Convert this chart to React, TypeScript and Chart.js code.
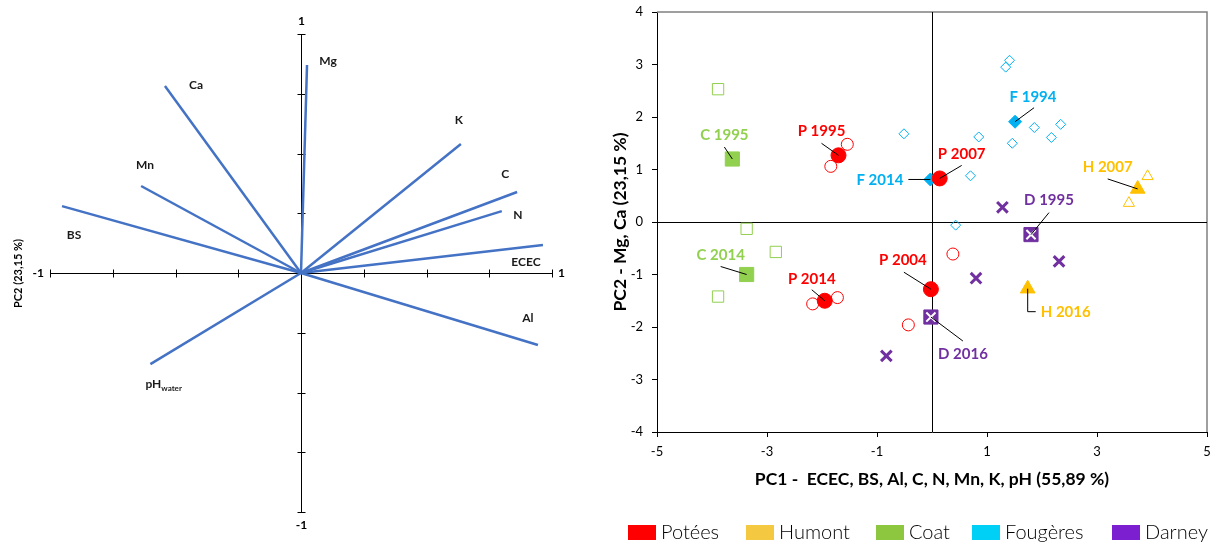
import React, { useEffect, useRef } from 'react';
import { Chart, registerables } from 'chart.js';
Chart.register(...registerables);

const FONT = 'Lato, "Open Sans", sans-serif';

// ---------- Left panel: variable loadings ----------
const variables = ['Ca', 'Mn', 'BS', 'Mg', 'K', 'C', 'N', 'ECEC', 'Al', 'pH'];
const loadPC1 = [-0.542, -0.637, -0.952, 0.024, 0.637, 0.861, 0.8, 0.964, 0.944, -0.6];
const loadPC2 = [0.782, 0.364, 0.28, 0.87, 0.54, 0.339, 0.259, 0.117, -0.301, -0.381];
const loadTicks = [-1, -0.75, -0.5, -0.25, 0, 0.25, 0.5, 0.75, 1];
const loadEndLabels = ['-1', '1'];
const leftYTitle = 'PC2 (23,15 %)';

// label offsets (pixels, text centre relative to vector tip)
const loadLabelOffsets: [number, number][] = [
  [31, -1], [4, -21], [12, 29], [21, -4], [-2, -24], [-12, -18], [16, 4], [-17, 17], [-10, -27], [-5, 20],
];

// ---------- Right panel: scores ----------
const potObsX = [-1.54, -1.84, 0.38, -0.43, -2.17, -1.72];
const potObsY = [1.48, 1.06, -0.61, -1.96, -1.56, -1.44];
const potMeanX = [-1.7, 0.14, -0.02, -1.95];
const potMeanY = [1.27, 0.83, -1.28, -1.5];
const potLabels = ['P 1995', 'P 2007', 'P 2004', 'P 2014'];

const humObsX = [3.92, 3.58];
const humObsY = [0.87, 0.36];
const humMeanX = [3.74, 1.74];
const humMeanY = [0.63, -1.27];
const humLabels = ['H 2007', 'H 2016'];

const coatObsX = [-3.89, -3.37, -2.84, -3.89];
const coatObsY = [2.53, -0.13, -0.57, -1.42];
const coatMeanX = [-3.63, -3.37];
const coatMeanY = [1.2, -1.0];
const coatLabels = ['C 1995', 'C 2014'];

const fouObsX = [-0.51, 1.41, 1.34, 1.86, 2.34, 2.17, 1.46, 0.85, 0.7, 0.43];
const fouObsY = [1.68, 3.08, 2.95, 1.8, 1.86, 1.61, 1.5, 1.62, 0.88, -0.06];
const fouMeanX = [1.51, -0.03];
const fouMeanY = [1.91, 0.81];
const fouLabels = ['F 1994', 'F 2014'];

const darObsX = [1.28, 2.31, 0.8, -0.83];
const darObsY = [0.28, -0.75, -1.07, -2.55];
const darMeanX = [1.8, -0.02];
const darMeanY = [-0.24, -1.81];
const darLabels = ['D 1995', 'D 2016'];

const legendNames = ['Potées', 'Humont', 'Coat', 'Fougères', 'Darney'];
const legendColors = ['#FF0000', '#F5C842', '#8DC63F', '#00D0F5', '#7B1FD0'];
const xTitle = 'PC1 -  ECEC, BS, Al, C, N, Mn, K, pH (55,89 %)';
const yTitle = 'PC2 - Mg, Ca (23,15 %)';

// callout styling: text position (tx,ty), align, leader path points (relative to mark)
type Callout = { tx: number; ty: number; align: CanvasTextAlign; path: [number, number][] };
const calloutStyle: Record<string, Callout> = {
  'C 1995': { tx: -8, ty: -24, align: 'center', path: [[-8, -12], [0, 0]] },
  'P 1995': { tx: -17, ty: -24, align: 'center', path: [[-17, -12], [0, 0]] },
  'F 2014': { tx: -27, ty: 1, align: 'right', path: [[-22, 0], [0, 0]] },
  'P 2007': { tx: 22, ty: -24, align: 'center', path: [[22, -13], [0, 0]] },
  'F 1994': { tx: 18, ty: -25, align: 'center', path: [[19, -14], [0, 0]] },
  'H 2007': { tx: -30, ty: -22, align: 'center', path: [[-30, -10], [0, 0]] },
  'D 1995': { tx: 18, ty: -34, align: 'center', path: [[18, -22], [0, 0]] },
  'C 2014': { tx: -26, ty: -19, align: 'center', path: [[-26, -8], [0, 0]] },
  'P 2014': { tx: -13, ty: -22, align: 'center', path: [[-13, -11], [0, 0]] },
  'P 2004': { tx: -28, ty: -29, align: 'center', path: [[-27, -17], [0, 0]] },
  'H 2016': { tx: 13, ty: 23, align: 'left', path: [[0, 0], [0, 23], [8, 23]] },
  'D 2016': { tx: 32, ty: 37, align: 'center', path: [[32, 24], [0, 0]] },
};

const pts = (xs: number[], ys: number[]) => xs.map((v, i) => ({ x: v, y: ys[i] }));

const series = [
  { color: '#FF0000', style: 'circle', obsR: 6, meanR: 7.5, obsX: potObsX, obsY: potObsY, meanX: potMeanX, meanY: potMeanY, labels: potLabels },
  { color: '#FFC000', style: 'triangle', obsR: 6.5, meanR: 8.5, obsX: humObsX, obsY: humObsY, meanX: humMeanX, meanY: humMeanY, labels: humLabels },
  { color: '#92D050', style: 'rect', obsR: 8, meanR: 10, obsX: coatObsX, obsY: coatObsY, meanX: coatMeanX, meanY: coatMeanY, labels: coatLabels },
  { color: '#00B0F0', style: 'rectRot', obsR: 5, meanR: 6.5, obsX: fouObsX, obsY: fouObsY, meanX: fouMeanX, meanY: fouMeanY, labels: fouLabels },
  { color: '#7030A0', style: 'crossRot', obsR: 7.5, meanR: 10, obsX: darObsX, obsY: darObsY, meanX: darMeanX, meanY: darMeanY, labels: darLabels },
];

const RIGHT_OFFSET = 600;

const leftPlugin = {
  id: 'loadingDecor',
  beforeDatasetsDraw(chart: any) {
    const { ctx } = chart;
    const x = chart.scales.x;
    const y = chart.scales.y;
    const ox = Math.round(x.getPixelForValue(0)) + 0.5;
    const oy = Math.round(y.getPixelForValue(0)) + 0.5;
    ctx.save();
    ctx.strokeStyle = '#000';
    ctx.lineWidth = 1;
    ctx.beginPath();
    ctx.moveTo(x.getPixelForValue(-1), oy);
    ctx.lineTo(x.getPixelForValue(1), oy);
    ctx.moveTo(ox, y.getPixelForValue(1));
    ctx.lineTo(ox, y.getPixelForValue(-1));
    for (const t of loadTicks) {
      if (t === 0) continue;
      const px = Math.round(x.getPixelForValue(t)) + 0.5;
      ctx.moveTo(px, oy - 4);
      ctx.lineTo(px, oy + 4);
      const py = Math.round(y.getPixelForValue(t)) + 0.5;
      ctx.moveTo(ox - 4, py);
      ctx.lineTo(ox + 4, py);
    }
    ctx.stroke();
    ctx.fillStyle = '#000';
    ctx.font = `bold 12px ${FONT}`;
    ctx.textBaseline = 'middle';
    ctx.textAlign = 'center';
    ctx.fillText(loadEndLabels[1], ox, y.getPixelForValue(1) - 13);
    ctx.fillText(loadEndLabels[0], ox, y.getPixelForValue(-1) + 13);
    ctx.textAlign = 'right';
    ctx.fillText(loadEndLabels[0], x.getPixelForValue(-1) - 6, oy);
    ctx.textAlign = 'left';
    ctx.fillText(loadEndLabels[1], x.getPixelForValue(1) + 6, oy);
    ctx.save();
    ctx.translate(18, oy);
    ctx.rotate(-Math.PI / 2);
    ctx.font = `bold 11px ${FONT}`;
    ctx.textAlign = 'center';
    ctx.fillText(leftYTitle, 0, 0);
    ctx.restore();
    ctx.restore();
  },
  afterDatasetsDraw(chart: any) {
    const { ctx } = chart;
    const x = chart.scales.x;
    const y = chart.scales.y;
    ctx.save();
    ctx.fillStyle = '#1a1a1a';
    ctx.textBaseline = 'middle';
    variables.forEach((v, i) => {
      const px = x.getPixelForValue(loadPC1[i]) + loadLabelOffsets[i][0];
      const py = y.getPixelForValue(loadPC2[i]) + loadLabelOffsets[i][1];
      if (v === 'pH') {
        ctx.textAlign = 'left';
        ctx.font = `bold 12px ${FONT}`;
        ctx.fillText('pH', px, py);
        const w = ctx.measureText('pH').width;
        ctx.font = `bold 8px ${FONT}`;
        ctx.fillText('water', px + w, py + 4);
      } else {
        ctx.textAlign = 'center';
        ctx.font = `bold 12px ${FONT}`;
        ctx.fillText(v, px, py);
      }
    });
    ctx.restore();
  },
};

const rightPlugin = {
  id: 'scoreDecor',
  beforeDatasetsDraw(chart: any) {
    const { ctx, chartArea: a } = chart;
    const x = chart.scales.x;
    const y = chart.scales.y;
    ctx.save();
    ctx.strokeStyle = '#808080';
    ctx.lineWidth = 1.5;
    ctx.beginPath();
    ctx.moveTo(a.left, a.top);
    ctx.lineTo(a.right, a.top);
    ctx.lineTo(a.right, a.bottom);
    ctx.stroke();
    ctx.strokeStyle = '#000';
    ctx.lineWidth = 1;
    const zx = Math.round(x.getPixelForValue(0)) + 0.5;
    const zy = Math.round(y.getPixelForValue(0)) + 0.5;
    ctx.beginPath();
    ctx.moveTo(zx, a.top);
    ctx.lineTo(zx, a.bottom);
    ctx.moveTo(a.left, zy);
    ctx.lineTo(a.right, zy);
    ctx.stroke();
    ctx.restore();
  },
  afterDatasetsDraw(chart: any) {
    const { ctx } = chart;
    const x = chart.scales.x;
    const y = chart.scales.y;
    ctx.save();
    ctx.font = `bold 15px ${FONT}`;
    ctx.textBaseline = 'middle';
    series.forEach((s) => {
      s.labels.forEach((lab, i) => {
        const st = calloutStyle[lab];
        const px = x.getPixelForValue(s.meanX[i]);
        const py = y.getPixelForValue(s.meanY[i]);
        ctx.strokeStyle = '#000';
        ctx.lineWidth = 1;
        ctx.beginPath();
        st.path.forEach(([dx, dy], k) => {
          if (k === 0) ctx.moveTo(px + dx, py + dy);
          else ctx.lineTo(px + dx, py + dy);
        });
        ctx.stroke();
        ctx.fillStyle = s.color;
        ctx.textAlign = st.align;
        ctx.fillText(lab, px + st.tx, py + st.ty);
      });
    });
    ctx.restore();
  },
  afterDraw(chart: any) {
    const { ctx, chartArea: a } = chart;
    ctx.save();
    ctx.fillStyle = '#000';
    ctx.textBaseline = 'middle';
    ctx.textAlign = 'center';
    ctx.font = `bold 17.5px ${FONT}`;
    ctx.fillText(xTitle, (a.left + a.right) / 2, 479);
    ctx.save();
    ctx.translate(620 - RIGHT_OFFSET, (a.top + a.bottom) / 2);
    ctx.rotate(-Math.PI / 2);
    ctx.fillText(yTitle, 0, 0);
    ctx.restore();
    // legend
    const boxX = [628, 746, 876, 972, 1112];
    ctx.font = `300 20px ${FONT}`;
    ctx.textAlign = 'left';
    legendNames.forEach((n, i) => {
      const bx = boxX[i] - RIGHT_OFFSET;
      ctx.fillStyle = legendColors[i];
      ctx.fillRect(bx, 525, 28, 15);
      ctx.fillStyle = '#000';
      ctx.fillText(n, bx + 33, 533);
    });
    ctx.restore();
  },
};

function leftConfig(): any {
  return {
    type: 'scatter',
    data: {
      datasets: variables.map((v, i) => ({
        label: v,
        data: [{ x: 0, y: 0 }, { x: loadPC1[i], y: loadPC2[i] }],
        showLine: true,
        borderColor: '#4472C4',
        borderWidth: 2.5,
        pointRadius: 0,
      })),
    },
    options: {
      animation: false,
      responsive: false,
      devicePixelRatio: 1,
      layout: { padding: { left: 50, right: 48, top: 34, bottom: 33 } },
      plugins: { legend: { display: false }, tooltip: { enabled: false } },
      scales: {
        x: { type: 'linear', min: -1, max: 1, display: false },
        y: { type: 'linear', min: -1, max: 1, display: false },
      },
    },
    plugins: [leftPlugin],
  };
}

const zeroPad = (s: any) => {
  s.paddingTop = 0;
  s.paddingBottom = 0;
  s.paddingLeft = 0;
  s.paddingRight = 0;
};

function rightConfig(): any {
  const datasets: any[] = [];
  series.forEach((s) => {
    const isCross = s.style === 'crossRot';
    datasets.push({
      order: 3,
      data: pts(s.obsX, s.obsY),
      pointStyle: s.style,
      pointRadius: s.obsR,
      pointBorderColor: s.color,
      pointBackgroundColor: 'rgba(255,255,255,0)',
      pointBorderWidth: isCross ? 3 : 1,
      showLine: false,
    });
  });
  series.forEach((s) => {
    const isCross = s.style === 'crossRot';
    datasets.push({
      order: 2,
      data: pts(s.meanX, s.meanY),
      pointStyle: isCross ? 'rect' : s.style,
      pointRadius: s.meanR,
      pointBorderColor: s.color,
      pointBackgroundColor: s.color,
      pointBorderWidth: 1,
      showLine: false,
    });
    if (isCross) {
      datasets.push({
        order: 1,
        data: pts(s.meanX, s.meanY),
        pointStyle: 'crossRot',
        pointRadius: 6.5,
        pointBorderColor: '#FFFFFF',
        pointBorderWidth: 2,
        showLine: false,
      });
    }
  });
  return {
    type: 'scatter',
    data: { datasets },
    options: {
      animation: false,
      responsive: false,
      devicePixelRatio: 1,
      layout: { padding: { left: 8, right: 5, top: 12, bottom: 83 } },
      plugins: { legend: { display: false }, tooltip: { enabled: false } },
      scales: {
        x: {
          type: 'linear', min: -5, max: 5,
          ticks: { stepSize: 2, color: '#000', padding: 7, font: { family: FONT, size: 13 } },
          grid: { drawOnChartArea: false, drawTicks: true, tickLength: 5, tickColor: '#000' },
          border: { display: true, color: '#000', width: 1 },
          afterFit: (s: any) => { s.height = 30; zeroPad(s); },
        },
        y: {
          type: 'linear', min: -4, max: 4,
          ticks: { stepSize: 1, color: '#000', padding: 9, font: { family: FONT, size: 13 } },
          grid: { drawOnChartArea: false, drawTicks: true, tickLength: 5, tickColor: '#000' },
          border: { display: true, color: '#000', width: 1 },
          afterFit: (s: any) => { s.width = 49; zeroPad(s); },
        },
      },
    },
    plugins: [rightPlugin],
  };
}

export default function App() {
  const leftRef = useRef<HTMLCanvasElement>(null);
  const rightRef = useRef<HTMLCanvasElement>(null);
  useEffect(() => {
    const c1 = new Chart(leftRef.current as HTMLCanvasElement, leftConfig());
    const c2 = new Chart(rightRef.current as HTMLCanvasElement, rightConfig());
    return () => {
      c1.destroy();
      c2.destroy();
    };
  }, []);
  return (
    <div style={{ position: 'absolute', left: 0, top: 0, width: 1218, height: 545, background: '#fff' }}>
      <canvas ref={leftRef} width={600} height={545} style={{ position: 'absolute', left: 0, top: 0, width: 600, height: 545 }} />
      <canvas ref={rightRef} width={618} height={545} style={{ position: 'absolute', left: RIGHT_OFFSET, top: 0, width: 618, height: 545 }} />
    </div>
  );
}
